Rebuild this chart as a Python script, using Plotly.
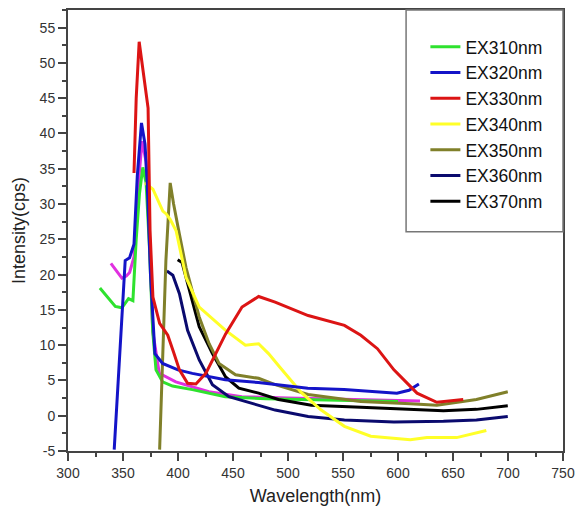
import plotly.graph_objects as go

# ---- data ----
ex310_x = [329, 336, 343, 349, 355, 359, 362, 365, 368, 371, 374, 377, 380, 386, 395, 413, 443, 480, 540, 600]
ex310_y = [18.1, 16.8, 15.5, 15.3, 16.6, 16.3, 25.0, 31.5, 35.2, 33.0, 24.0, 12.0, 6.5, 4.8, 4.2, 3.7, 2.7, 2.4, 2.2, 2.0]

exmag_x = [339, 344, 349, 353, 356, 360, 363, 367.3, 371, 374, 377, 383, 398, 428, 458, 500, 560, 600, 620]
exmag_y = [21.6, 20.5, 19.5, 19.8, 20.3, 22.5, 31.0, 38.9, 36.0, 26.0, 12.0, 6.0, 4.8, 3.4, 2.7, 2.5, 2.3, 2.1, 2.1]

ex320_x = [342, 347, 352, 356, 360, 363, 366.8, 370, 372, 375, 379, 386, 400, 413, 443, 473, 518, 551, 599, 610, 619]
ex320_y = [-4.8, 9.0, 22.0, 22.4, 24.3, 34.0, 41.5, 38.5, 33.0, 20.0, 8.8, 7.4, 6.5, 6.0, 5.1, 4.7, 3.9, 3.7, 3.2, 3.6, 4.5]

ex330_x = [360, 362, 364.7, 368, 372.8, 374.6, 377.2, 383.3, 390.7, 396, 401.3, 408.7, 416.3, 425.3, 434, 443.3, 458.2, 473.3, 488.3, 518.3, 551.3, 566.2, 581.3, 596.3, 617.3, 635.3, 659.3]
ex330_y = [34.4, 45.0, 53.0, 49.0, 43.6, 26.2, 16.8, 13.1, 11.4, 9.0, 6.5, 4.6, 4.5, 6.0, 8.8, 11.6, 15.4, 16.9, 16.1, 14.2, 12.8, 11.4, 9.5, 6.5, 3.2, 1.9, 2.3]

ex340_x = [369.8, 377.2, 386.2, 389.3, 393, 398.3, 407.3, 419.3, 443.3, 461.3, 473.3, 482.3, 493, 503.2, 512, 530.2, 551.3, 575.2, 611.2, 626.3, 653.3, 680.3]
ex340_y = [33.0, 32.1, 29.0, 28.6, 27.8, 26.2, 19.6, 15.4, 12.1, 10.0, 10.2, 8.8, 6.8, 5.0, 3.3, 0.8, -1.5, -2.9, -3.4, -3.1, -3.1, -2.1]

ex350_x = [383.3, 386, 389, 392.9, 396, 401.3, 407.3, 419.3, 428.3, 437.3, 452.3, 473.3, 488.3, 518.3, 566.2, 611.2, 635.3, 671.3, 699.8]
ex350_y = [-4.8, 8.0, 22.0, 33.0, 30.0, 25.7, 21.0, 14.0, 10.2, 7.4, 5.8, 5.3, 4.4, 3.0, 2.0, 1.7, 1.5, 2.3, 3.4]

ex360_x = [389.9, 395.3, 401.3, 408.7, 419.3, 431.3, 446.3, 467.3, 488.3, 518.3, 551.3, 596.3, 641.3, 671.3, 699.8]
ex360_y = [20.5, 19.9, 17.3, 12.1, 7.9, 4.4, 2.7, 1.8, 0.8, -0.1, -0.6, -0.9, -0.8, -0.6, -0.1]

ex370_x = [399.7, 403.7, 409.7, 419.3, 431.3, 443.3, 455.3, 473.3, 491.3, 521.2, 566.2, 611.2, 641.3, 671.3, 699.8]
ex370_y = [22.1, 21.7, 18.2, 12.6, 8.8, 5.5, 3.9, 3.2, 2.3, 1.5, 1.2, 0.9, 0.7, 0.9, 1.4]

names = ["EX310nm", "EX320nm", "EX330nm", "EX340nm", "EX350nm", "EX360nm", "EX370nm"]
colors = ["#2ee22e", "#1414c8", "#dc1414", "#ffff28", "#80802a", "#0a0a6e", "#000000"]
series = [(ex310_x, ex310_y), (ex320_x, ex320_y), (ex330_x, ex330_y), (ex340_x, ex340_y),
          (ex350_x, ex350_y), (ex360_x, ex360_y), (ex370_x, ex370_y)]

x_ticks = list(range(300, 751, 50))
y_ticks = list(range(-5, 56, 5))

fig = go.Figure()

# unlabeled magenta curve (drawn first, underneath)
fig.add_trace(go.Scatter(x=exmag_x, y=exmag_y, mode="lines", showlegend=False,
                         line=dict(color="#e030e0", width=3)))

draw_order = [0, 6, 5, 4, 3, 1, 2]
for i in draw_order:
    xs, ys = series[i]
    fig.add_trace(go.Scatter(x=xs, y=ys, mode="lines", name=names[i],
                             line=dict(color=colors[i], width=3), legendrank=i + 1))

axis_common = dict(showgrid=False, zeroline=False, showline=True, linecolor="#444444",
                   linewidth=2, mirror=True, ticks="outside", tickcolor="#444444",
                   tickwidth=1.5, ticklen=8,
                   tickfont=dict(family="Liberation Sans, Arial", size=14, color="#333333"))

fig.update_xaxes(range=[300, 750], tickvals=x_ticks, ticktext=[str(v) for v in x_ticks],
                 minor=dict(dtick=25, ticks="outside", ticklen=4, tickcolor="#444444"),
                 title=dict(text="Wavelength(nm)", font=dict(family="Liberation Sans, Arial", size=18, color="#222222"), standoff=10),
                 **axis_common)
fig.update_yaxes(range=[-5, 57.5], tickvals=y_ticks, ticktext=[str(v) for v in y_ticks],
                 minor=dict(dtick=2.5, ticks="outside", ticklen=4, tickcolor="#444444"),
                 title=dict(text="Intensity(cps)", font=dict(family="Liberation Sans, Arial", size=18, color="#222222"), standoff=9),
                 **axis_common)

# legend frame
fig.add_shape(type="rect", xref="paper", yref="paper", x0=0.683, x1=1.0, y0=0.497, y1=1.0,
              line=dict(color="#777777", width=1.5), fillcolor="white", layer="above")

fig.update_layout(
    width=582, height=522,
    margin=dict(l=67.5, r=14.5, t=7.5, b=70.5),
    paper_bgcolor="white", plot_bgcolor="white",
    legend=dict(x=0.722, y=0.957, xanchor="left", yanchor="top",
                bgcolor="rgba(0,0,0,0)", borderwidth=0,
                font=dict(family="Liberation Sans, Arial", size=17.5, color="#111111"),
                traceorder="normal"),
)

fig.write_html("out.html")
